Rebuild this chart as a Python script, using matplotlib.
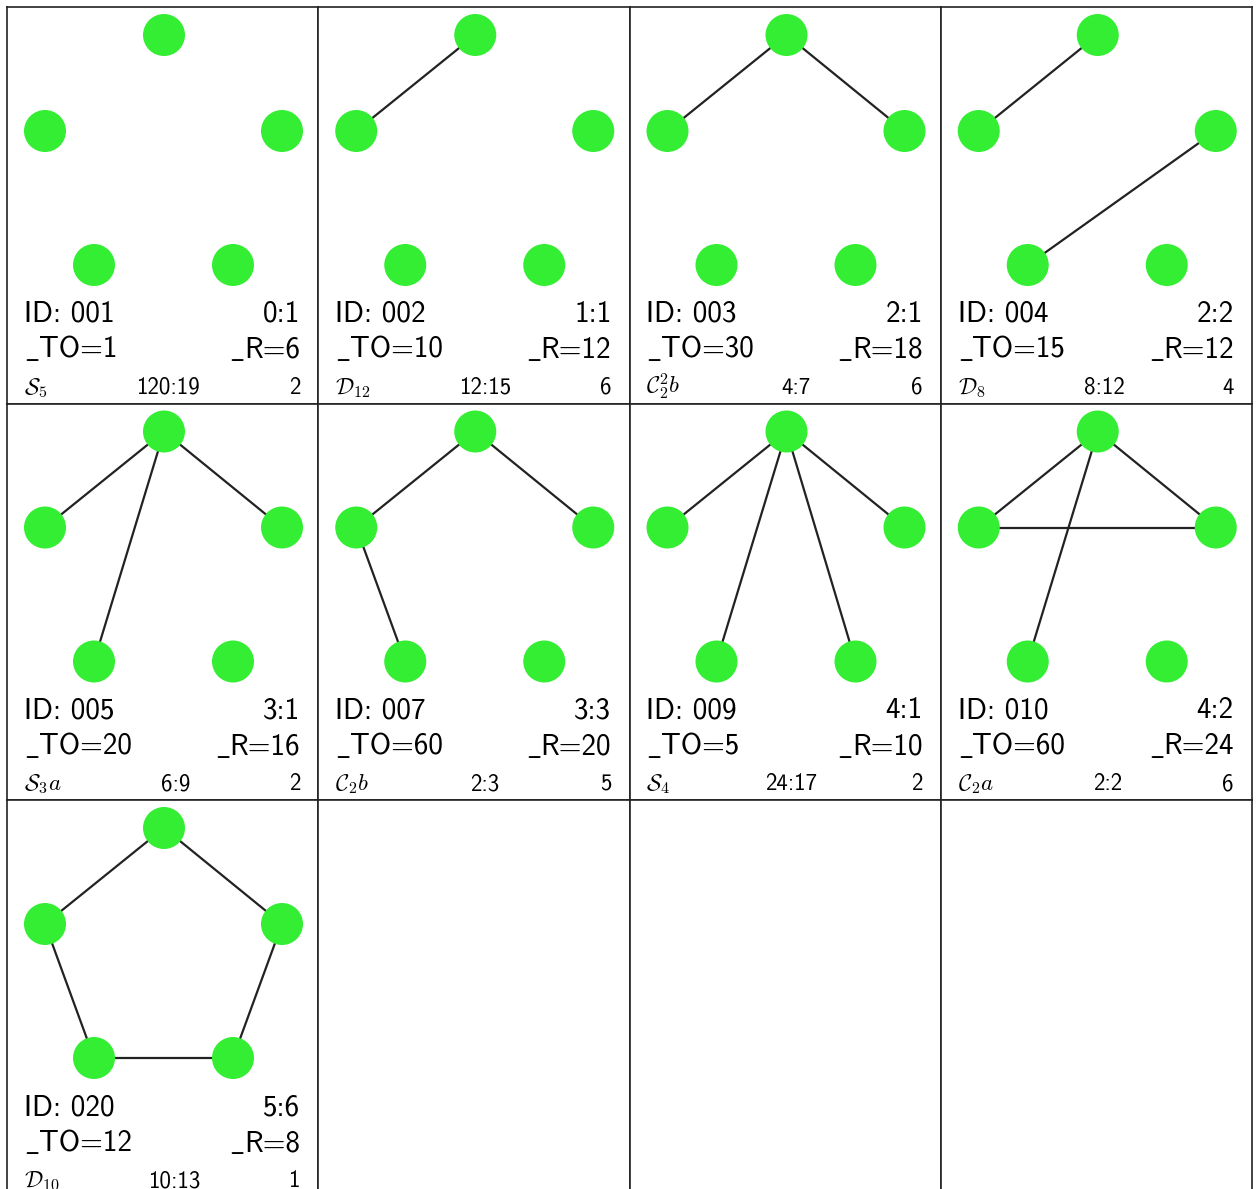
import matplotlib
matplotlib.use("Agg")
import matplotlib.pyplot as plt
from matplotlib.patches import Circle

plt.rcParams['font.family'] = ['cmss10', 'DejaVu Sans']
plt.rcParams['mathtext.fontset'] = 'cm'
plt.rcParams['axes.unicode_minus'] = False

# data
ids = ['001', '002', '003', '004', '005', '007', '009', '010', '020']
ratios = ['0:1', '1:1', '2:1', '2:2', '3:1', '3:3', '4:1', '4:2', '5:6']
to_vals = [1, 10, 30, 15, 20, 60, 5, 60, 12]
r_vals = [6, 12, 18, 12, 16, 20, 10, 24, 8]
groups = [r'\mathcal{S}_5', r'\mathcal{D}_{12}', r'\mathcal{C}_2^2b', r'\mathcal{D}_8',
          r'\mathcal{S}_3a', r'\mathcal{C}_2b', r'\mathcal{S}_4', r'\mathcal{C}_2a',
          r'\mathcal{D}_{10}']
mids = ['120:19', '12:15', '4:7', '8:12', '6:9', '2:3', '24:17', '2:2', '10:13']
rights = [2, 6, 6, 4, 2, 5, 2, 6, 1]
# nodes: 0 top, 1 left, 2 right, 3 bottom-left, 4 bottom-right
edges = [
    [],
    [(0, 1)],
    [(0, 1), (0, 2)],
    [(0, 1), (2, 3)],
    [(0, 1), (0, 2), (0, 3)],
    [(0, 1), (0, 2), (1, 3)],
    [(0, 1), (0, 2), (0, 3), (0, 4)],
    [(0, 1), (0, 2), (1, 2), (0, 3)],
    [(0, 1), (1, 3), (3, 4), (4, 2), (2, 0)],
]
node_x = [157, 38, 275, 87, 226]
node_y = [28, 124, 124, 258, 258]

FW, FH = 1256, 1189
W, H = 311.25, 396.5
X0, Y0 = 7.0, 7.0
ncols, nrows = 4, 3
green = '#33ee33'
big, small = 21, 16.5
XL, XR = 17, 293

fig = plt.figure(figsize=(FW / 100, FH / 100), dpi=100)

axes = []
for k in range(ncols * nrows):
    r, c = divmod(k, ncols)
    left = (X0 + c * W) / FW
    bottom = 1 - (Y0 + (r + 1) * H) / FH
    ax = fig.add_axes([left, bottom, W / FW, H / FH])
    ax.set_xlim(0, W)
    ax.set_ylim(H, 0)
    ax.set_xticks([])
    ax.set_yticks([])
    for s in ax.spines.values():
        s.set_color('#222222')
        s.set_linewidth(1.2)
    axes.append(ax)

pending = []
for i in range(len(ids)):
    ax = axes[i]
    for a, b in edges[i]:
        ax.plot([node_x[a], node_x[b]], [node_y[a], node_y[b]],
                color='#222222', lw=1.6, zorder=2, solid_capstyle='butt')
    for x, y in zip(node_x, node_y):
        ax.add_patch(Circle((x, y), 21, color=green, zorder=3, lw=0))
    ax.text(XL, 315, f'ID: {ids[i]}', fontsize=big, ha='left', va='baseline')
    ax.text(XR, 315, ratios[i], fontsize=big, ha='right', va='baseline')
    us = ax.text(XL, 351, r'$\_$', fontsize=big, ha='left', va='baseline')
    rt2 = ax.text(XR, 351, f'R={r_vals[i]}', fontsize=big, ha='right', va='baseline')
    lt = ax.text(XL, 387, f'${groups[i]}$', fontsize=small, ha='left', va='baseline')
    rt = ax.text(XR, 387, str(rights[i]), fontsize=small, ha='right', va='baseline')
    pending.append((i, ax, us, rt2, lt, rt))

fig.canvas.draw()
rend = fig.canvas.get_renderer()
for i, ax, us, rt2, lt, rt in pending:
    inv = ax.transData.inverted()
    # "_TO=.." : text follows the underscore
    x1 = inv.transform((us.get_window_extent(rend).x1, 0))[0]
    ax.text(x1 - 1, 351, f'TO={to_vals[i]}', fontsize=big, ha='left', va='baseline')
    # "_R=.." : underscore sits before the right-aligned text
    x0 = inv.transform((rt2.get_window_extent(rend).x0, 0))[0]
    ax.text(x0 + 1, 351, r'$\_$', fontsize=big, ha='right', va='baseline')
    # middle item sits like \hfill: equal gaps on both sides
    lx = lt.get_window_extent(rend).x1
    rx = rt.get_window_extent(rend).x0
    xm = inv.transform(((lx + rx) / 2, 0))[0]
    ax.text(xm, 387, mids[i], fontsize=small, ha='center', va='baseline')

fig.savefig('out.png', dpi=100)
